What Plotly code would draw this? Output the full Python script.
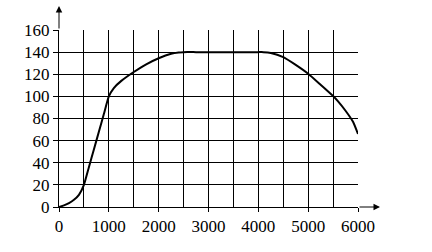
import plotly.graph_objects as go

x_vals = [0, 100, 200, 300, 400, 500, 600, 700, 800, 900, 1000, 1100, 1250, 1500, 1750,
          2000, 2250, 2400, 2500, 2750, 3000, 3250, 3500, 3750, 4000, 4100, 4250, 4500, 4750,
          5000, 5250, 5500, 5600, 5750, 5900, 6000]
y_vals = [0, 1.5, 3.5, 6.5, 11, 20, 36, 52, 68, 84, 100, 107.5, 114, 122, 129,
          134.5, 138.5, 139.7, 140, 140, 140, 140, 140, 140, 140, 140, 139.3, 135.5, 128.5,
          120.5, 110.5, 100.3, 95.5, 87, 77, 66]

x_ticks = [0, 1000, 2000, 3000, 4000, 5000, 6000]
y_ticks = [0, 20, 40, 60, 80, 100, 120, 140, 160]

font = dict(family="'Liberation Serif', 'Times New Roman', serif", size=17, color="black")

fig = go.Figure()
fig.add_trace(go.Scatter(x=x_vals, y=y_vals, mode="lines",
                         line=dict(color="black", width=2, shape="spline", smoothing=0.5),
                         hoverinfo="skip", showlegend=False, cliponaxis=False))

fig.update_layout(
    width=432, height=252,
    margin=dict(l=59, r=74, t=30, b=45),
    paper_bgcolor="white", plot_bgcolor="white",
    font=font,
    showlegend=False,
)
fig.update_xaxes(range=[0, 6000], tickvals=x_ticks, ticktext=[str(v) for v in x_ticks],
                 ticks="outside", ticklen=4, tickcolor="black", tickwidth=1,
                 showgrid=True, gridcolor="black", gridwidth=1,
                 minor=dict(dtick=500, tick0=0, showgrid=True, gridcolor="black", gridwidth=1, ticklen=0),
                 showline=True, linecolor="black", linewidth=1, zeroline=False,
                 tickfont=font)
fig.update_yaxes(range=[0, 160], tickvals=y_ticks, ticktext=[str(v) for v in y_ticks],
                 ticks="outside", ticklen=5, tickcolor="black", tickwidth=1,
                 showgrid=True, gridcolor="black", gridwidth=1,
                 showline=True, linecolor="black", linewidth=1, zeroline=False,
                 tickfont=font)

# axis arrows
fig.add_annotation(xref="paper", yref="paper", x=0, y=1 + 24 / 177, ax=0, ay=24,
                   axref="pixel", ayref="pixel", text="", showarrow=True,
                   arrowhead=2, arrowsize=1.3, arrowwidth=1, arrowcolor="black", standoff=0)
fig.add_annotation(xref="paper", yref="paper", x=1 + 22 / 299, y=0, ax=-22, ay=0,
                   axref="pixel", ayref="pixel", text="", showarrow=True,
                   arrowhead=2, arrowsize=1.3, arrowwidth=1, arrowcolor="black", standoff=0)

fig.write_html("out.html")
